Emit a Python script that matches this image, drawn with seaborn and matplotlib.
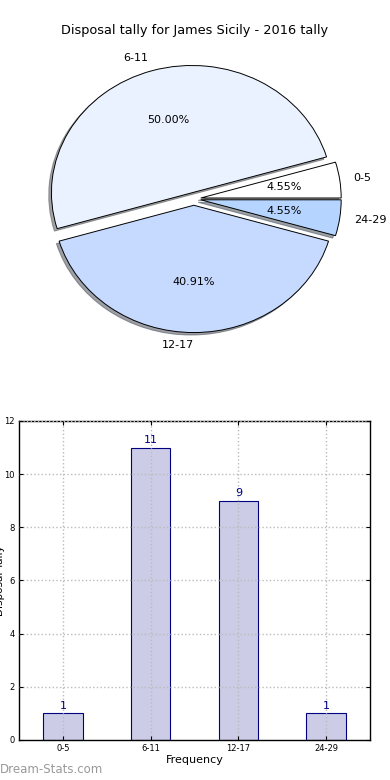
import pandas as pd
import numpy as np
import matplotlib
matplotlib.use("Agg")
import matplotlib.pyplot as plt
import seaborn as sns

# Data
categories = ["0-5", "6-11", "12-17", "24-29"]
tally = [1, 11, 9, 1]
pie_colors = ["#FFFFFF", "#EBF2FF", "#C6D9FF", "#B5D4FF"]
title = "Disposal tally for James Sicily - 2016 tally"

sns.set_style("white")
plt.rcParams['font.family'] = ['DejaVu Sans']
plt.rcParams['text.color'] = 'black'
plt.rcParams['axes.labelcolor'] = 'black'
plt.rcParams['xtick.color'] = 'black'
plt.rcParams['ytick.color'] = 'black'

fig = plt.figure(figsize=(3.9, 7.8), dpi=100)

# Pie chart (top)
ax_pie = fig.add_axes([0.047, 0.541, 0.9, 0.408])
wedges, texts, autotexts = ax_pie.pie(
    tally, labels=categories, colors=pie_colors, explode=[0.05] * 4,
    autopct="%.2f%%", shadow=dict(ox=-0.014, oy=-0.014, alpha=0.5),
    startangle=0,
    wedgeprops=dict(edgecolor="black", linewidth=0.7),
    textprops=dict(fontsize=8, color="black"))
texts[2].set_ha("right")
ax_pie.set_aspect("auto")
fig.text(0.5, 0.961, title, ha="center", va="center", fontsize=9.3)

# Bar chart (bottom)
df = pd.DataFrame({"cat": categories, "tally": tally})
ax_bar = fig.add_axes([0.049, 0.0513, 0.9, 0.409])
sns.barplot(data=df, x="cat", y="tally", ax=ax_bar, color="#CCCCE6",
            saturation=1, width=0.45, edgecolor="#000080", linewidth=0.8)
for i, v in enumerate(tally):
    ax_bar.text(i, v + 0.1, str(v), ha="center", va="bottom", color="#000080",
                fontsize=8)
ax_bar.set_xlim(-0.5, 3.5)
ax_bar.set_ylim(0, 12)
ax_bar.set_yticks(range(0, 13, 2))
ax_bar.grid(True, linestyle=":", color="#BBBBBB", linewidth=1)
ax_bar.set_axisbelow(False)
for s in ax_bar.spines.values():
    s.set_color("black")
    s.set_linewidth(1)
ax_bar.tick_params(direction="in", labelsize=6, length=3, top=True, right=True,
                   bottom=True, left=True, pad=3)
ax_bar.set_xlabel("Frequency", fontsize=8, labelpad=1)
ax_bar.set_ylabel("Disposal Tally", fontsize=7.5, labelpad=0)
ax_bar.yaxis.set_label_coords(-0.04, 0.5)

fig.text(0.0, 0.013, "Dream-Stats.com", ha="left", va="center", fontsize=8.5,
         color="#999999")

fig.savefig("out.png", dpi=100)
